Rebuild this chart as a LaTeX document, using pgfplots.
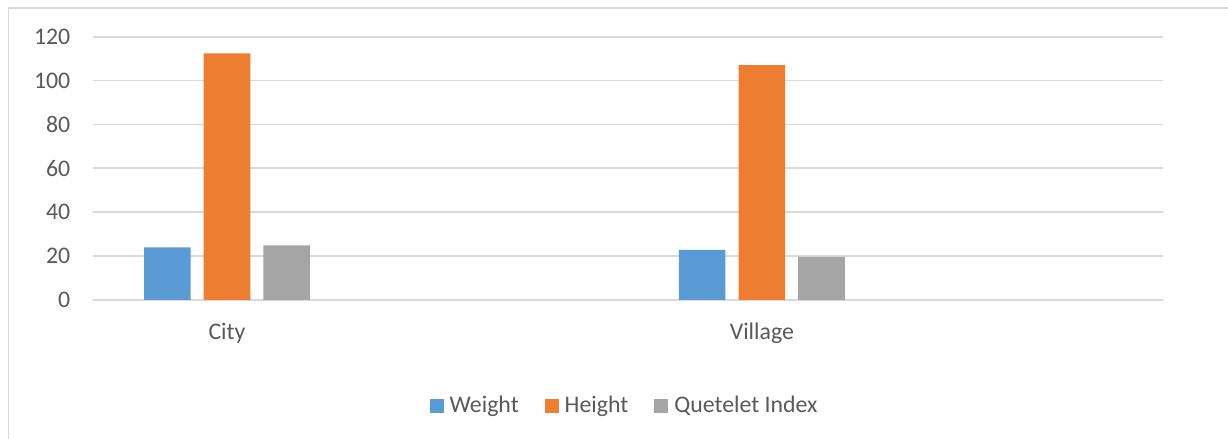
\documentclass[border=0pt]{standalone}
\usepackage{pgfplots}
\pgfplotsset{compat=1.18}
\usepackage{fontspec}
\setmainfont{Carlito}

\definecolor{wblue}{HTML}{5B9BD5}
\definecolor{horange}{HTML}{ED7D31}
\definecolor{qgray}{HTML}{A5A5A5}
\definecolor{gridgray}{HTML}{D9D9D9}
\definecolor{labelgray}{HTML}{595959}

\begin{document}
\begin{tikzpicture}[x=1pt,y=1pt]
% canvas and chart frame
\path[use as bounding box, fill=white] (0,0) rectangle (614,219.5);
\draw[gridgray, line width=0.8pt] (4.15,0) -- (4.15,215.5) -- (614,215.5);
\begin{axis}[
  at={(46.65pt,69.5pt)}, anchor=south west,
  scale only axis, width=534.85pt, height=131.65pt,
  xmin=-0.5, xmax=3.5, ymin=0, ymax=120,
  ytick={0,20,40,60,80,100,120},
  xtick={0,2}, xticklabels={City,Village},
  axis line style={draw=none},
  major tick length=0pt,
  ymajorgrids, grid style={gridgray, line width=0.9pt},
  tick label style={font=\fontsize{11.9}{13}\selectfont, text=labelgray, inner sep=0pt},
  yticklabel style={anchor=east, xshift=-11.3pt},
  xticklabel style={anchor=north, yshift=-11.5pt},
  /pgf/number format/assume math mode=true,
  ybar, bar width=0.174,
  legend columns=3,
  legend style={at={(0.4957,-0.4026)}, anchor=center, draw=none, fill=none,
    font=\fontsize{11.9}{13}\selectfont, text=labelgray,
    nodes={inner sep=0pt},
    /tikz/every odd column/.append style={column sep=3pt},
    /tikz/every even column/.append style={column sep=13pt}},
  legend image code/.code={\fill[#1] (0pt,-3.5pt) rectangle (7pt,3.5pt);},
]
\addplot[fill=wblue, draw=none, bar shift=-0.223] coordinates {(0,24.0) (2,22.9)};
\addplot[fill=horange, draw=none, bar shift=0] coordinates {(0,112.4) (2,107.1)};
\addplot[fill=qgray, draw=none, bar shift=0.223] coordinates {(0,24.9) (2,19.7)};
\legend{Weight, Height, Quetelet Index}
\end{axis}
\end{tikzpicture}
\end{document}
